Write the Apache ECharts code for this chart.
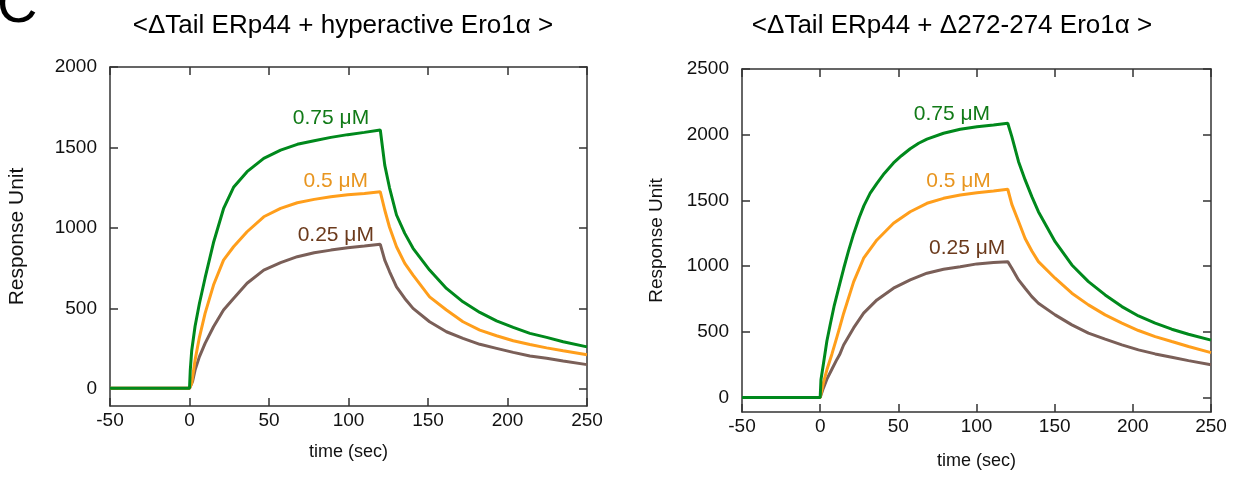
<!DOCTYPE html>
<html><head><meta charset="utf-8">
<script src="https://cdn.jsdelivr.net/npm/echarts@6/dist/echarts.min.js"></script>
<style>html,body{margin:0;padding:0;background:#fff}#c{width:1238px;height:477px}</style>
</head><body><div id="c"></div>
<script>
const panelTitles = ['<ΔTail ERp44 + hyperactive Ero1α >', '<ΔTail ERp44 + Δ272-274 Ero1α >'];
const concLabels = ['0.75 μM', '0.5 μM', '0.25 μM'];
const xTicks = [-50, 0, 50, 100, 150, 200, 250];
const leftYTicks = [0, 500, 1000, 1500, 2000];
const rightYTicks = [0, 500, 1000, 1500, 2000, 2500];

// Left panel: hyperactive Ero1α  [time (s), response]
const left075 = [[-50,5],[0,5],[0.5,120],[1.4,240],[3.5,390],[6.2,530],[9.8,690],[15.1,910],[21.4,1120],[27.7,1253],[36.2,1350],[46.7,1433],[57.3,1484],[67.8,1520],[78.4,1542],[88.9,1563],[99.5,1580],[110,1594],[120,1609],[122.8,1391],[125.8,1250],[130.2,1081],[135.4,967],[140.6,874],[151,739],[161.6,625],[172,542],[182.6,476],[193.1,424],[203.6,383],[214.1,346],[224.6,321],[235,294],[250,262]];
const left05 = [[-50,5],[0,5],[1.4,37],[3.5,180],[6.2,320],[9.8,470],[15.1,646],[21.4,801],[27.7,884],[36.2,977],[46.7,1070],[57.3,1122],[67.8,1157],[78.4,1178],[88.9,1194],[99.5,1207],[110,1215],[120,1225],[122.8,1112],[125.8,1005],[130.2,884],[135.4,781],[140.6,708],[151,573],[161.6,491],[172,418],[182.6,366],[193.1,331],[203.6,300],[214.1,277],[224.6,256],[235,238],[250,213]];
const left025 = [[-50,5],[0,5],[2,50],[3.5,118],[6.2,200],[9.8,284],[15.1,387],[21.4,491],[27.7,563],[36.2,657],[46.7,739],[57.3,785],[67.8,822],[78.4,847],[88.9,863],[99.5,878],[110,888],[120,899],[122.8,801],[125.8,730],[130.2,635],[135.4,563],[140.6,501],[151,418],[161.6,356],[172,315],[182.6,278],[193.1,253],[203.6,228],[214.1,205],[224.6,191],[235,174],[250,152]];

// Right panel: Δ272-274 Ero1α
const right075 = [[-50,0],[0,0],[0.5,135],[2,250],[4.3,430],[6.5,560],[9,700],[12.4,860],[15,980],[18,1110],[21.4,1245],[25,1370],[28,1460],[32,1555],[36.3,1630],[41,1705],[46.9,1785],[52,1840],[57.6,1893],[63,1935],[68.3,1967],[78.9,2011],[89.6,2041],[100.3,2061],[110.9,2074],[120,2087],[122.6,1985],[126.9,1795],[131.1,1656],[135.4,1529],[139.6,1414],[150.3,1186],[161,1009],[171.6,882],[182.3,781],[193,692],[203.6,621],[214.3,566],[224.9,520],[235.6,482],[250,437]];
const right05 = [[-50,0],[0,0],[2,110],[4.3,211],[7.5,330],[10.7,460],[12.4,530],[15,640],[21.4,880],[27.8,1060],[36.3,1199],[46.9,1326],[57.6,1414],[68.3,1478],[78.9,1516],[89.6,1541],[100.3,1559],[110.9,1572],[120,1585],[122.6,1470],[126.9,1340],[131.1,1210],[135.4,1115],[139.6,1034],[150.3,908],[161,794],[171.6,705],[182.3,629],[193,566],[203.6,510],[214.3,464],[224.9,426],[235.6,388],[250,342]];
const right025 = [[-50,0],[0,0],[2,70],[4.3,140],[7.5,215],[10.7,290],[12.4,325],[15,400],[21.4,530],[27.8,642],[36.3,743],[46.9,832],[57.6,895],[68.3,946],[78.9,976],[89.6,996],[100.3,1017],[110.9,1027],[120,1034],[122.6,984],[126.9,895],[131.1,832],[135.4,768],[139.6,718],[150.3,629],[161,553],[171.6,490],[182.3,444],[193,401],[203.6,363],[214.3,332],[224.9,307],[235.6,281],[250,249]];

const FONT = '"Liberation Sans", Arial, Helvetica, sans-serif';
const AX = '#333';
const lineColors = ['#00891c', '#ff9e1b', '#7a5f58'];
const labelColors = ['#117a17', '#e8951f', '#6b3a1c'];

function xAxes(grid, top) {
  return {
    type: 'value', gridIndex: grid, position: top ? 'top' : 'bottom',
    min: -50, max: 250, interval: 50,
    name: top ? '' : 'time (sec)', nameLocation: 'middle', nameGap: grid === 0 ? 37 : 40,
    nameTextStyle: { fontFamily: FONT, fontSize: 18, color: '#111' },
    axisLine: { onZero: false, lineStyle: { color: AX, width: 1.5 } },
    axisTick: { inside: true, length: 8, lineStyle: { color: AX, width: 1.5 } },
    axisLabel: { show: !top, fontFamily: FONT, fontSize: 19, color: '#111', margin: 5, formatter: v => String(v) },
    splitLine: { show: false }
  };
}
function yAxes(grid, right, min, max, ticks) {
  return {
    type: 'value', gridIndex: grid, position: right ? 'right' : 'left',
    min: min, max: max,
    name: right ? '' : 'Response Unit', nameLocation: 'middle', nameGap: grid === 0 ? 82 : 76,
    nameTextStyle: { fontFamily: FONT, fontSize: grid === 0 ? 21 : 19, color: '#111' },
    axisLine: { onZero: false, lineStyle: { color: AX, width: 1.5 } },
    axisTick: { inside: true, length: 8, customValues: ticks, lineStyle: { color: AX, width: 1.5 } },
    axisLabel: { show: !right, customValues: ticks, fontFamily: FONT, fontSize: 19, color: '#111', margin: 13, formatter: v => String(v) },
    splitLine: { show: false }
  };
}
function lineSeries(data, ci, xi, yi, coord) {
  return {
    type: 'line', data: data, xAxisIndex: xi, yAxisIndex: yi,
    showSymbol: false, symbol: 'none', animation: false, z: 3 + (2 - ci),
    lineStyle: { color: lineColors[ci], width: 3 },
    markPoint: {
      symbol: 'circle', symbolSize: 0, animation: false,
      data: [{ coord: coord }],
      label: { show: true, position: 'inside', formatter: concLabels[ci], color: labelColors[ci], fontFamily: FONT, fontSize: 21 }
    }
  };
}

const chart = echarts.init(document.getElementById('c'), null, { renderer: 'canvas' });
chart.setOption({
  backgroundColor: '#fff',
  animation: false,
  title: [
    { text: panelTitles[0], left: 338, top: 8, textAlign: 'center', textStyle: { fontFamily: FONT, fontSize: 26, fontWeight: 'normal', color: '#000' } },
    { text: panelTitles[1], left: 947, top: 8, textAlign: 'center', textStyle: { fontFamily: FONT, fontSize: 26, fontWeight: 'normal', color: '#000' } }
  ],
  graphic: [
    { type: 'text', x: -3, y: 7, silent: true, style: { text: 'C', fontFamily: FONT, fontSize: 56, fill: '#000', verticalAlign: 'middle', align: 'left' } }
  ],
  grid: [
    { left: 110, top: 67, width: 477, height: 339 },
    { left: 742, top: 69, width: 469, height: 343 }
  ],
  xAxis: [xAxes(0, false), xAxes(0, true), xAxes(1, false), xAxes(1, true)],
  yAxis: [
    yAxes(0, false, -105, 2000, leftYTicks), yAxes(0, true, -105, 2000, leftYTicks),
    yAxes(1, false, -110, 2500, rightYTicks), yAxes(1, true, -110, 2500, rightYTicks)
  ],
  series: [
    lineSeries(left025, 2, 0, 0, [92, 957]),
    lineSeries(left05, 1, 0, 0, [92, 1288]),
    lineSeries(left075, 0, 0, 0, [89, 1683]),
    lineSeries(right025, 2, 2, 2, [94, 1136]),
    lineSeries(right05, 1, 2, 2, [88.5, 1643]),
    lineSeries(right075, 0, 2, 2, [84.3, 2157])
  ]
});
</script>
</body></html>
